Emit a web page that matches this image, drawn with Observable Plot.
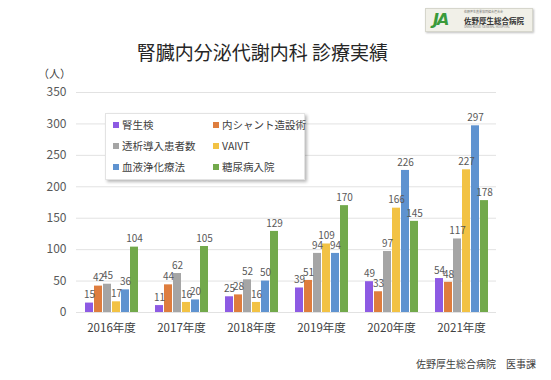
<!DOCTYPE html>
<html>
<head>
<meta charset="utf-8">
<script src="https://cdn.jsdelivr.net/npm/d3@7"></script>
<script src="https://cdn.jsdelivr.net/npm/@observablehq/plot@0.6"></script>
<style>
  html, body { margin: 0; padding: 0; background: #fff; }
  body { font-family: "Noto Sans CJK JP", "Noto Sans", sans-serif; }
  #wrap { position: relative; width: 551px; height: 380px; overflow: hidden; background: #fff; }
  #chart { position: absolute; left: 0; top: 0; }
  .title { position: absolute; left: 0; width: 525px; top: 38px; text-align: center; font-size: 19px; color: #262626; }
  .unit { position: absolute; left: 38px; top: 65px; font-size: 11px; color: #404040; }
  .footer { position: absolute; left: 416px; top: 356px; font-size: 10px; color: #404040; white-space: nowrap; }
  .legend { position: absolute; left: 105px; top: 113px; width: 198px; height: 65px; background: #fff; border: 1px solid #e3e3e3; box-shadow: 2px 2px 3px rgba(0,0,0,0.28); }
  .item { position: absolute; font-size: 10.5px; color: #404040; white-space: nowrap; line-height: 12px; }
  .sw { display: inline-block; width: 6px; height: 6px; margin-right: 3px; vertical-align: 1px; }
  .logo { position: absolute; left: 425px; top: 8px; width: 106px; height: 22px; background: #f1f0e8; border: 1px solid #d6d6cc; box-shadow: 1px 1px 2px rgba(0,0,0,0.25); }
  .logo .ja { position: absolute; left: 7px; top: 1px; font-size: 16px; font-weight: bold; font-style: italic; color: #3a9a3a; font-family: "DejaVu Sans", sans-serif; letter-spacing: -2px; }
  .logo .nm { position: absolute; left: 38px; top: 6px; font-size: 7.5px; font-weight: bold; color: #333; white-space: nowrap; }
  .logo .sub1 { position: absolute; left: 38px; top: 1px; font-size: 3px; color: #777; white-space: nowrap; }
  .logo .sub2 { position: absolute; left: 38px; top: 16px; font-size: 3px; color: #777; white-space: nowrap; }
</style>
</head>
<body>
<div id="wrap">
  <div id="chart"></div>
  <div class="logo"><span class="sub1">佐野厚生農業協同組合連合会</span><span class="ja">JA</span><span class="nm">佐野厚生総合病院</span><span class="sub2">SANO KOSEI GENERAL HOSPITAL</span></div>
  <div class="title">腎臓内分泌代謝内科 診療実績</div>
  <div class="unit">（人）</div>
  <div class="legend" id="legend"></div>
  <div class="footer">佐野厚生総合病院　医事課</div>
</div>
<script>
const years = ["2016年度", "2017年度", "2018年度", "2019年度", "2020年度", "2021年度"];
const series = ["腎生検", "内シャント造設術", "透析導入患者数", "VAIVT", "血液浄化療法", "糖尿病入院"];
const colors = ["#8d5ae3", "#de7d3e", "#a5a5a5", "#f2c244", "#5f93d0", "#72a94b"];
const v_jinseiken = [15, 11, 25, 39, 49, 54];
const v_shunt = [42, 44, 28, 51, 33, 48];
const v_touseki = [45, 62, 52, 94, 97, 117];
const v_vaivt = [17, 16, 16, 109, 166, 227];
const v_ketsueki = [36, 20, 50, 94, 226, 297];
const v_tonyobyo = [104, 105, 129, 170, 145, 178];
const yTicks = [0, 50, 100, 150, 200, 250, 300, 350];

const seriesValues = [v_jinseiken, v_shunt, v_touseki, v_vaivt, v_ketsueki, v_tonyobyo];
const data = [];
years.forEach((yr, i) => {
  series.forEach((s, j) => data.push({year: yr, series: s, value: seriesValues[j][i]}));
});

const chart = Plot.plot({
  width: 551,
  height: 380,
  marginTop: 92,
  marginBottom: 68,
  marginLeft: 73,
  marginRight: 53,
  style: {fontFamily: '"Noto Sans CJK JP", "Noto Sans", sans-serif', background: "transparent"},
  fx: {domain: years, padding: 0, label: null, axis: "bottom", tickSize: 0, tickPadding: 11},
  x: {domain: series, axis: null, paddingInner: 0.15, paddingOuter: 0.84},
  y: {domain: [0, 350], ticks: yTicks, label: null, tickSize: 0, tickPadding: 10},
  color: {domain: series, range: colors},
  marks: [
    Plot.ruleY(yTicks, {stroke: "#e2e2e2", strokeWidth: 1}),
    Plot.barY(data, {fx: "year", x: "series", y: "value", fill: "series"}),
    Plot.text(data, {fx: "year", x: "series", y: "value", text: d => String(d.value), dy: -8, fill: "#595959", fontSize: 10})
  ]
});
document.getElementById("chart").appendChild(chart);

chart.querySelectorAll("g[aria-label='y-axis tick label'] text, g[aria-label='y-axis'] text").forEach(t => {
  t.style.fontSize = "12px"; t.style.fill = "#595959";
});
chart.querySelectorAll("g[aria-label='fx-axis tick label'] text, g[aria-label='fx-axis'] text").forEach(t => {
  t.style.fontSize = "11.5px"; t.style.fill = "#404040";
});

const legend = document.getElementById("legend");
const pos = [[7, 5], [107, 5], [7, 26], [107, 26], [7, 47], [107, 47]];
series.forEach((s, k) => {
  const d = document.createElement("div");
  d.className = "item";
  d.style.left = pos[k][0] + "px";
  d.style.top = pos[k][1] + "px";
  d.innerHTML = `<span class="sw" style="background:${colors[k]}"></span>${s}`;
  legend.appendChild(d);
});
</script>
</body>
</html>
